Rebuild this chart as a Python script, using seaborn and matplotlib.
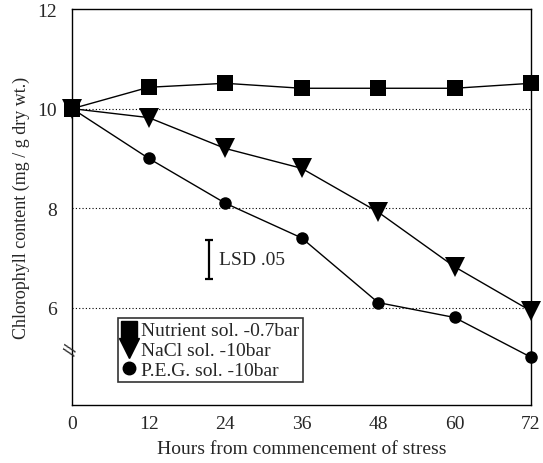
import numpy as np
import pandas as pd
import matplotlib
matplotlib.use('Agg')
import matplotlib.pyplot as plt
import seaborn as sns
from matplotlib.lines import Line2D

hours = [0, 12, 24, 36, 48, 60, 72]
nutrient = [10.0, 10.43, 10.51, 10.41, 10.41, 10.41, 10.51]
nacl = [10.0, 9.82, 9.2, 8.8, 7.92, 6.82, 5.93]
peg = [10.0, 9.0, 8.1, 7.4, 6.1, 5.8, 5.0]
labels = ['Nutrient sol. -0.7bar', 'NaCl sol. -10bar', 'P.E.G. sol. -10bar']
markers = ['s', 'v', 'o']
msizes = [12, 14, 9]
lsd_x = 21.5
lsd_lo, lsd_hi = 6.57, 7.36

sns.set_style('white')
plt.rcParams['font.family'] = ['Liberation Serif', 'DejaVu Serif']
plt.rcParams['font.size'] = 13

df = pd.DataFrame({'hours': hours * 3,
                   'value': nutrient + nacl + peg,
                   'series': np.repeat(labels, len(hours))})

fig, ax = plt.subplots(figsize=(5.43, 4.64), dpi=100)
fig.subplots_adjust(left=0.133, right=0.978, top=0.978, bottom=0.125)

for ylev in [6, 8, 10]:
    ax.axhline(ylev, color='black', linestyle=(0, (1, 2)), linewidth=0.8, zorder=1)

for lab, mk, ms in zip(labels, markers, msizes):
    sub = df[df['series'] == lab]
    sns.lineplot(data=sub, x='hours', y='value', ax=ax, color='black', linewidth=1.0,
                 marker=mk, markersize=ms, markeredgewidth=0, legend=False, zorder=3,
                 clip_on=False)

# LSD bar
ax.errorbar([lsd_x], [(lsd_lo + lsd_hi) / 2], yerr=[[(lsd_hi - lsd_lo) / 2]], color='black',
            capsize=3, linewidth=1.6, capthick=1.6)
ax.text(lsd_x + 1.6, (lsd_lo + lsd_hi) / 2, 'LSD .05', va='center', ha='left', fontsize=14)

ax.set_xlim(0, 72)
ax.set_ylim(4.04, 12)
ax.set_xticks(hours)
ax.set_yticks([6, 8, 10, 12])
ax.tick_params(length=0, labelsize=14)
ax.tick_params(axis='x', pad=7)
ax.tick_params(axis='y', pad=11)
for s in ax.spines.values():
    s.set_color('black')
    s.set_linewidth(1.0)

# axis break marks
ax.text(0, 5.15, '//', rotation=75, ha='center', va='center', fontsize=14,
        fontweight='bold', transform=ax.transData, clip_on=False)

ax.set_xlabel('Hours from commencement of stress', fontsize=14, labelpad=6)
ax.set_ylabel('Chlorophyll content (mg / g dry wt.)', fontsize=13, labelpad=5)

handles = [Line2D([], [], color='black', marker=m, linestyle='none', markersize=s)
           for m, s in zip(markers, msizes)]
leg = ax.legend(handles, labels, loc='upper left', bbox_to_anchor=(0.099, 0.22),
                borderaxespad=0, frameon=True, fancybox=False, fontsize=14,
                handlelength=0.8, handletextpad=0.2, borderpad=0.2, labelspacing=0.1)
leg.get_frame().set_edgecolor('black')
leg.get_frame().set_linewidth(1.2)

plt.savefig('out.png', dpi=100)
plt.close()
